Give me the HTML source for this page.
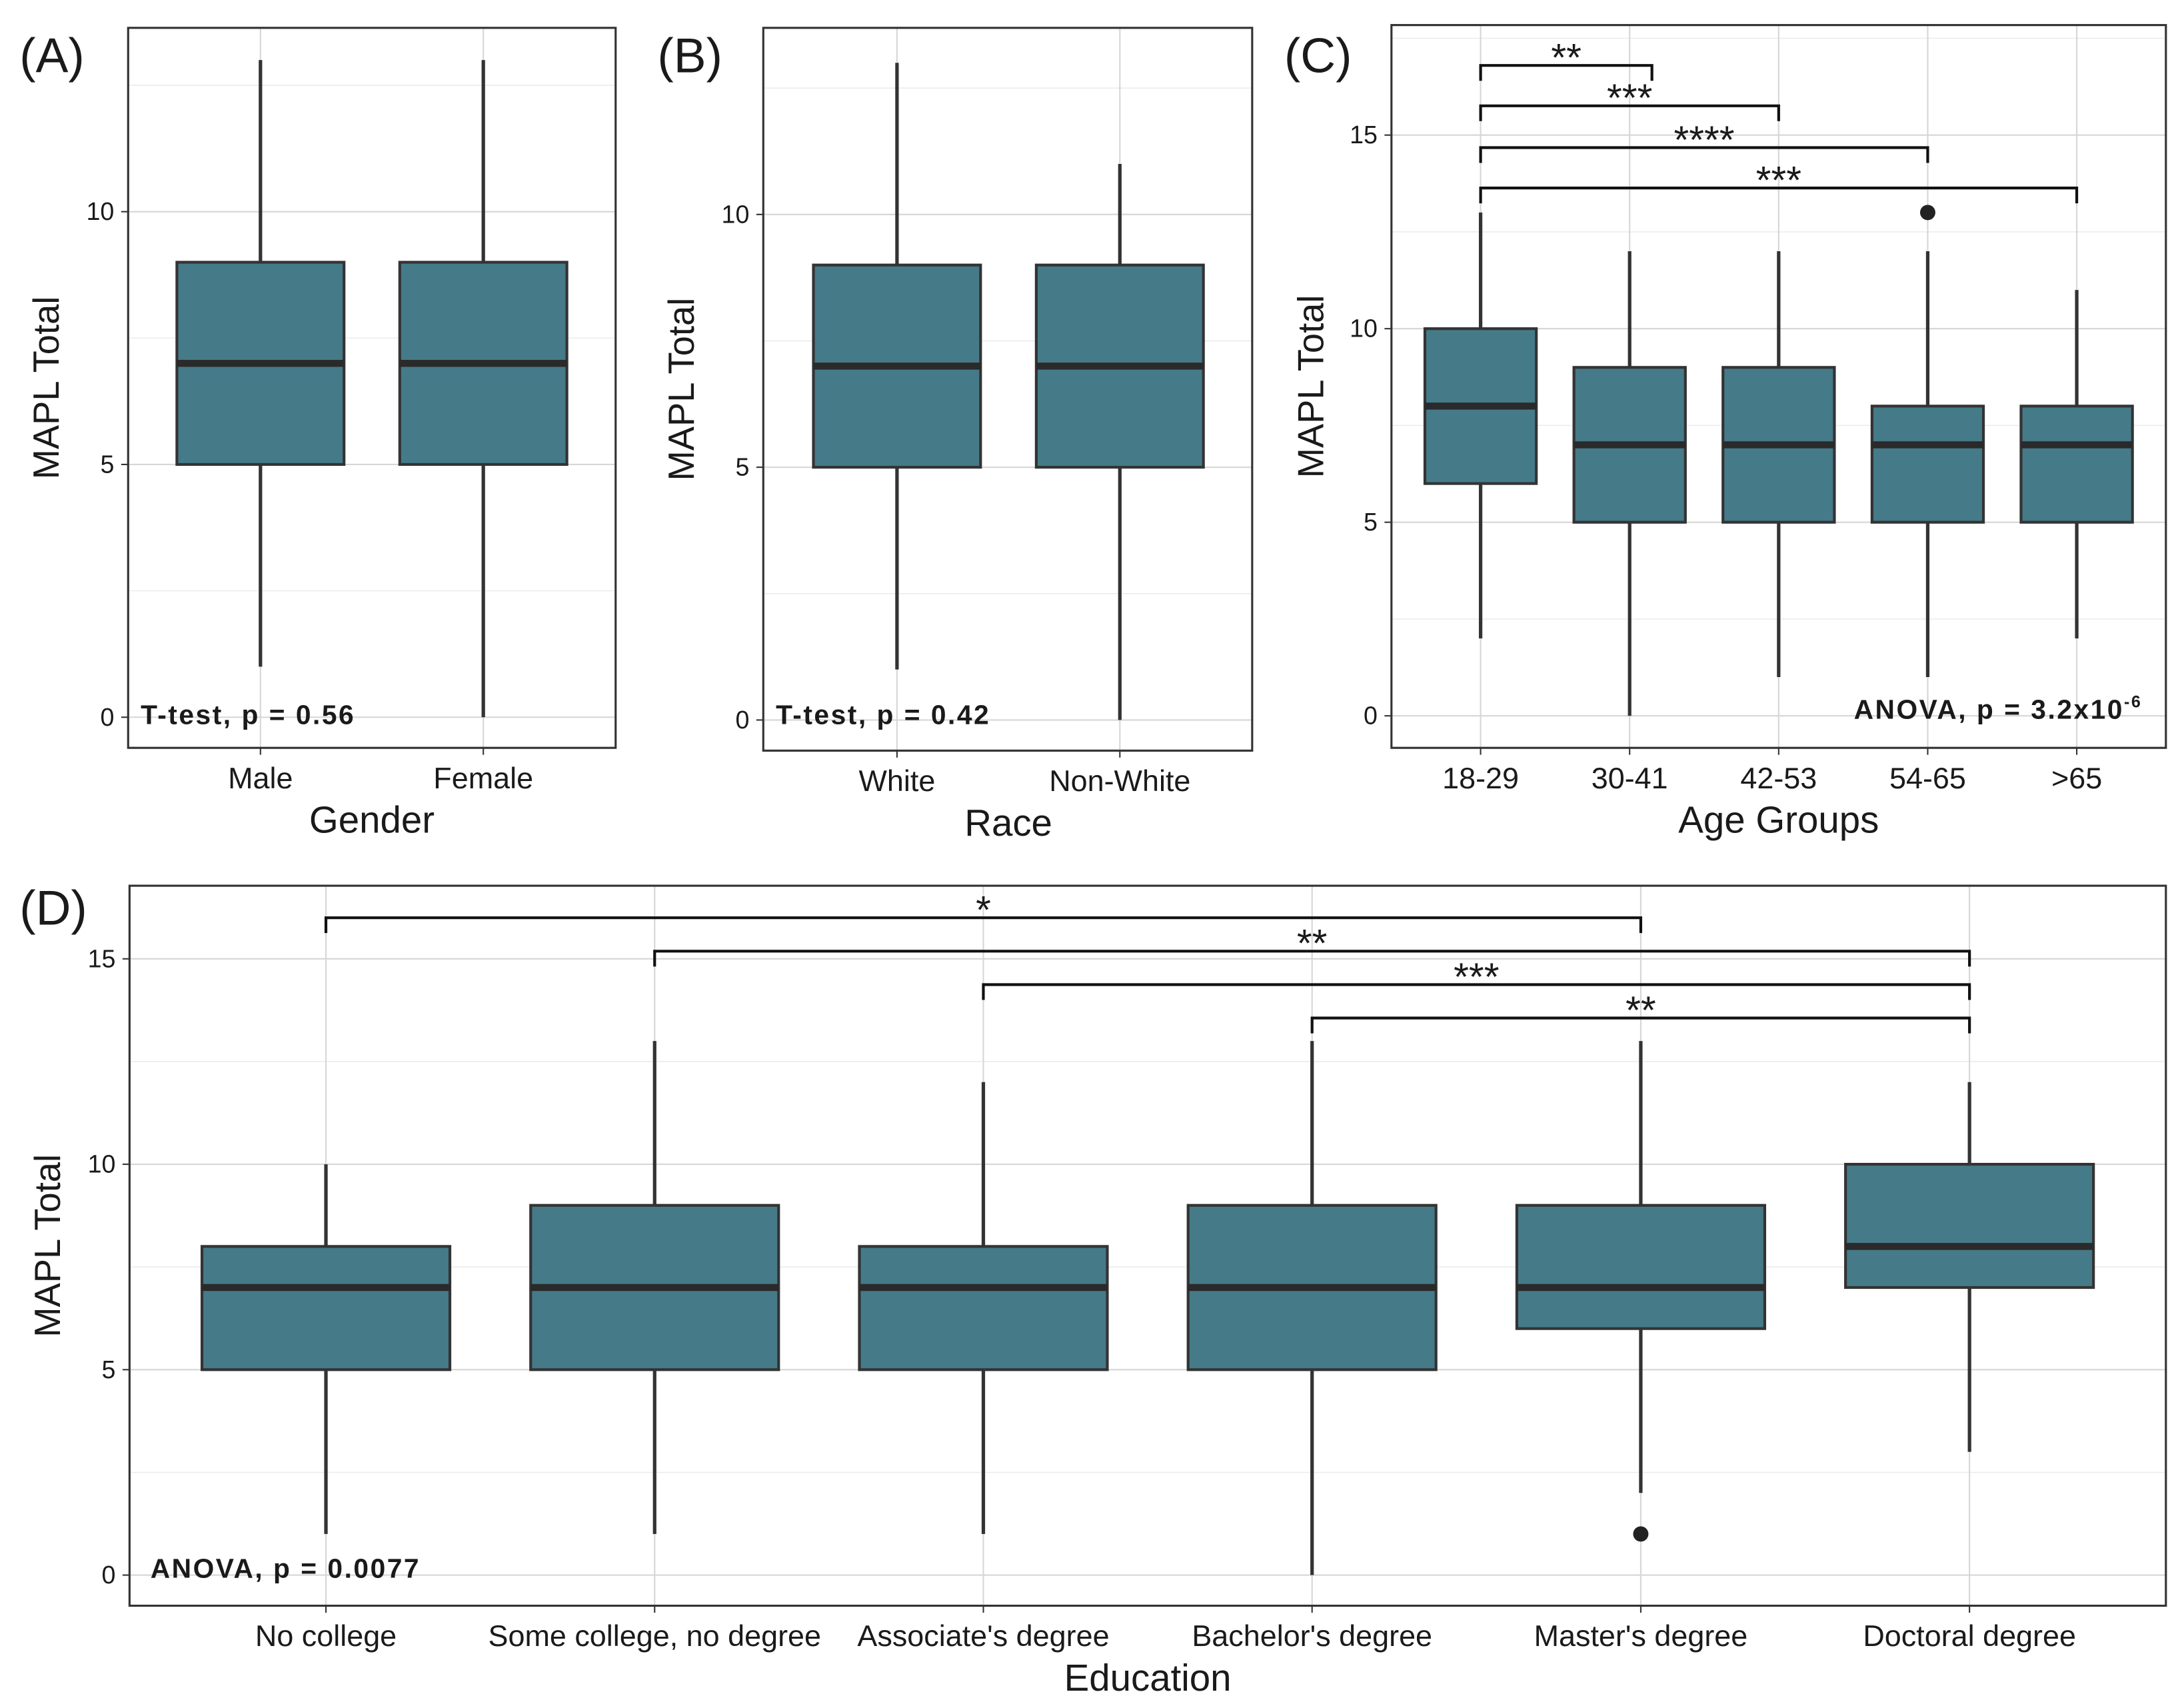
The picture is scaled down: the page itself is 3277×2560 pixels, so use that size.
<!DOCTYPE html>
<html><head><meta charset="utf-8"><style>
html,body{margin:0;padding:0;background:#fff}
svg{display:block}
text{font-family:"Liberation Sans",Arial,sans-serif;fill:#1a1a1a}
</style></head><body>
<svg id="fig" width="3277" height="2560" viewBox="0 0 1568 1225" preserveAspectRatio="none" xmlns="http://www.w3.org/2000/svg"></svg>
<script>
// Panel A data
const catsA=["Male","Female"];
const loA=[1,0],q1A=[5,5],medA=[7,7],q3A=[9,9],hiA=[13,13];
// Panel B data
const catsB=["White","Non-White"];
const loB=[1,0],q1B=[5,5],medB=[7,7],q3B=[9,9],hiB=[13,11];
// Panel C data
const catsC=["18-29","30-41","42-53","54-65",">65"];
const loC=[2,0,1,1,2],q1C=[6,5,5,5,5],medC=[8,7,7,7,7],q3C=[10,9,9,8,8],hiC=[13,12,12,12,11];
const outC=[[3,13]];
const brC=[[0,1,"**"],[0,2,"***"],[0,3,"****"],[0,4,"***"]];
// Panel D data
const catsD=["No college","Some college, no degree","Associate's degree","Bachelor's degree","Master's degree","Doctoral degree"];
const loD=[1,1,1,0,2,3],q1D=[5,5,5,5,6,7],medD=[7,7,7,7,7,8],q3D=[8,9,8,9,9,10],hiD=[10,13,12,13,13,12];
const outD=[[4,1]];
const brD=[[0,4,"*"],[1,5,"**"],[2,5,"***"],[3,5,"**"]];
const yTicksAB=[0,5,10],yTicksCD=[0,5,10,15];

const NS="http://www.w3.org/2000/svg";
const svg=document.getElementById("fig");
function mk(tag,attrs,parent,name,txt){const e=document.createElementNS(NS,tag);for(const k in attrs)e.setAttribute(k,attrs[k]);


if(txt!==undefined)e.textContent=txt;(parent||svg).appendChild(e);return e;}

function panel(p){
  const g=mk("g",{},svg,"panel-"+p.id);
  const y=v=>p.y0-(v)*(p.y0-p.y10)/10;
  const x=i=>p.x0+i*p.dx;
  for(let v=-2.5;v<=p.ymax;v+=5){const yy=y(v);if(yy>p.top&&yy<p.bot)mk("line",{x1:p.left,x2:p.right,y1:yy,y2:yy,stroke:"#ececec","stroke-width":0.8},g,"minor-gridline");}
  p.ticks.forEach(v=>{mk("line",{x1:p.left,x2:p.right,y1:y(v),y2:y(v),stroke:"#d6d6d6","stroke-width":1},g,"major-gridline");
    mk("line",{x1:p.left-5,x2:p.left,y1:y(v),y2:y(v),stroke:"#333","stroke-width":1},g,"y-tick");
    mk("text",{x:p.left-10,y:y(v)+6,"font-size":18,"text-anchor":"end",fill:"#333"},g,"y-tick-label",String(v));});
  p.cats.forEach((c,i)=>{mk("line",{x1:x(i),x2:x(i),y1:p.top,y2:p.bot,stroke:"#d6d6d6","stroke-width":1},g,"vertical-gridline");
    mk("line",{x1:x(i),x2:x(i),y1:p.bot,y2:p.bot+5,stroke:"#333","stroke-width":1},g,"x-tick");
    mk("text",{x:x(i),y:p.bot+29,"font-size":21.5,"text-anchor":"middle",fill:"#333"},g,"x-tick-label",c);});
  p.cats.forEach((c,i)=>{
    const bg=mk("g",{},g,"box-"+c.toLowerCase().replace(/[^a-z0-9]+/g,"-"));
    mk("line",{x1:x(i),x2:x(i),y1:y(p.hi[i]),y2:y(p.lo[i]),stroke:"#333","stroke-width":2.5},bg,"whisker");
    mk("rect",{x:x(i)-p.bw/2,y:y(p.q3[i]),width:p.bw,height:y(p.q1[i])-y(p.q3[i]),fill:"#457a89",stroke:"#333","stroke-width":2},bg,"box-body");
    mk("line",{x1:x(i)-p.bw/2,x2:x(i)+p.bw/2,y1:y(p.med[i]),y2:y(p.med[i]),stroke:"#2a2a2a","stroke-width":5},bg,"median-line");
  });
  (p.out||[]).forEach(o=>mk("circle",{cx:x(o[0]),cy:y(o[1]),r:5.5,fill:"#222"},g,"outlier-point"));
  (p.br||[]).forEach((b,k)=>{const yy=p.brY[k];const xe=(p.brEnd&&p.brEnd[k])?p.brEnd[k]:x(b[1]);
    mk("path",{d:`M${x(b[0])},${yy+11}V${yy}H${xe}V${yy+11}`,fill:"none",stroke:"#111","stroke-width":2},g,"significance-bracket");
    mk("text",{x:(x(b[0])+xe)/2,y:yy+4,"font-size":28,"text-anchor":"middle",fill:"#111"},g,"significance-stars",b[2]);});
  mk("rect",{x:p.left,y:p.top,width:p.right-p.left,height:p.bot-p.top,fill:"none",stroke:"#333","stroke-width":1.5},g,"plot-border");
  const st=mk("text",{x:p.statX,y:p.statY,"font-size":19.5,"font-weight":"bold","text-anchor":p.statAnchor||"start","letter-spacing":"1.2",fill:"#111"},g,"stat-test-label",p.stat);
  if(p.sup){mk("tspan",{dy:-8,"font-size":12},st,"exponent",p.sup);}
  mk("text",{x:p.ytX,y:(p.top+p.bot)/2,"font-size":26,"text-anchor":"middle",transform:`rotate(-90 ${p.ytX} ${(p.top+p.bot)/2})`,fill:"#111"},g,"y-axis-title","MAPL Total");
  mk("text",{x:p.xtX,y:p.bot+61,"font-size":27,"text-anchor":"middle",fill:"#111"},g,"x-axis-title",p.xt);
  mk("text",{x:p.tagX,y:p.tagY,"font-size":35,fill:"#111"},g,"panel-label",p.tag);
}
panel({id:"a",cats:catsA,lo:loA,q1:q1A,med:medA,q3:q3A,hi:hiA,ticks:yTicksAB,ymax:14,left:92,right:442,top:20,bot:537,y0:515,y10:152,x0:187,dx:160,bw:120,
 stat:"T-test, p = 0.56",statX:101,statY:520,ytX:42,xt:"Gender",xtX:267,tag:"(A)",tagX:14,tagY:52});
panel({id:"b",cats:catsB,lo:loB,q1:q1B,med:medB,q3:q3B,hi:hiB,ticks:yTicksAB,ymax:14,left:548,right:899,top:20,bot:539,y0:517,y10:154,x0:644,dx:160,bw:120,
 stat:"T-test, p = 0.42",statX:557,statY:520,ytX:498,xt:"Race",xtX:724,tag:"(B)",tagX:472,tagY:52});
panel({id:"c",cats:catsC,lo:loC,q1:q1C,med:medC,q3:q3C,hi:hiC,out:outC,br:brC,brY:[47,76,106,135],brEnd:[1186,0,0,0],ticks:yTicksCD,ymax:18,left:999,right:1555,top:18,bot:537,y0:514,y10:236,x0:1063,dx:107,bw:80,
 stat:"ANOVA, p = 3.2x10",sup:"-6",statX:1538,statY:516,statAnchor:"end",ytX:950,xt:"Age Groups",xtX:1277,tag:"(C)",tagX:922,tagY:52});
panel({id:"d",cats:catsD,lo:loD,q1:q1D,med:medD,q3:q3D,hi:hiD,out:outD,br:brD,brY:[659,683,707,731],ticks:yTicksCD,ymax:17,left:93,right:1555,top:636,bot:1153,y0:1131,y10:836,x0:234,dx:236,bw:178,
 stat:"ANOVA, p = 0.0077",statX:108,statY:1133,ytX:43,xt:"Education",xtX:824,tag:"(D)",tagX:14,tagY:664});
</script>
</body></html>
